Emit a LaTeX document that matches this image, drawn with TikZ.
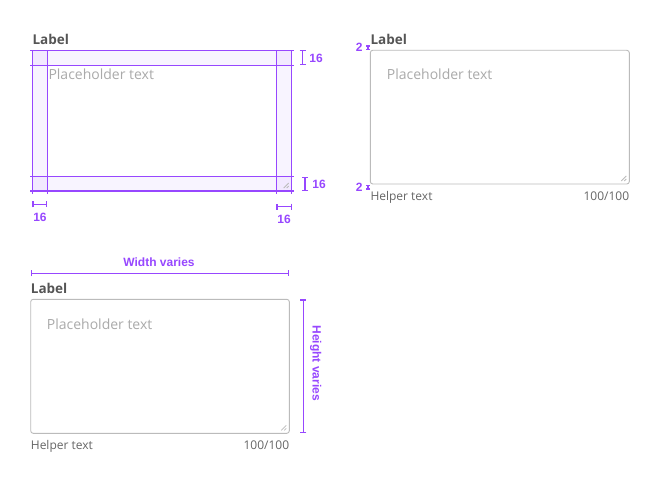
\documentclass[tikz,border=0pt]{standalone}
\usepackage{fontspec}
\setmainfont{Open Sans}
\newfontfamily\dimfont{Liberation Sans}
\usetikzlibrary{arrows.meta}

\definecolor{dimpurple}{RGB}{151,71,255}
\definecolor{labelgray}{RGB}{85,85,85}
\definecolor{holdergray}{RGB}{170,170,170}
\definecolor{helpergray}{RGB}{102,102,102}
\definecolor{bordergray}{RGB}{187,187,187}

\tikzset{
  fieldlabel/.style={anchor=base west, inner sep=0pt, text=labelgray,
    font=\fontsize{13.5}{16}\selectfont\bfseries},
  holder/.style={anchor=base west, inner sep=0pt, text=holdergray,
    font=\fontsize{14}{17}\selectfont},
  helper/.style={anchor=base west, inner sep=0pt, text=helpergray,
    font=\fontsize{12}{14}\selectfont},
  counter/.style={helper, anchor=base east},
  fieldbox/.style={draw=bordergray, line width=0.9pt, rounded corners=2.5pt},
  grip/.style={draw=bordergray, line width=0.8pt},
  dimline/.style={draw=dimpurple, line width=1.2pt, {Bar[width=6pt]}-{Bar[width=6pt]}},
  smalldim/.style={draw=dimpurple, line width=1.1pt, {Bar[width=4pt]}-{Bar[width=4pt]}},
  dimtext/.style={inner sep=0pt, text=dimpurple,
    font=\dimfont\fontsize{12}{14}\selectfont\bfseries},
  padline/.style={draw=dimpurple, line width=1.1pt},
  padstrip/.style={fill=dimpurple, fill opacity=0.06},
}

\begin{document}
\begin{tikzpicture}[%
      x=1pt, y=-1pt,
      ]
      \useasboundingbox[fill=white] (0,0) rectangle (660,484);

      % padding overlay
      \fill[padstrip] (32.3,50.3) rectangle (291.7,65.3);
      \fill[padstrip] (32.3,176.7) rectangle (291.7,191);
      \fill[padstrip] (32.3,50.3) rectangle (47.3,191);
      \fill[padstrip] (276.3,50.3) rectangle (291.7,191);

      \node[fieldlabel] (lab1) at (32.3,44.3) {Label};
      \node[holder] (ph1) at (48.3,80) {Placeholder text};
      \draw[grip] (288.7,183) -- (283.7,188);
      \draw[grip] (288.7,186) -- (286.7,188);

      \foreach \y in {50.3,65.3,176.7,191}
        \draw[padline] (30,\y) -- (294,\y);
      \foreach \x in {32.3,47.3,276.3,291.7}
        \draw[padline] (\x,50.3) -- (\x,193.5);

      \coordinate (t1) at (302.7,50.3);
      \coordinate (t2) at (302.7,65.3);
      \draw[dimline] (t1) -- (t2);
      \node[dimtext] (tpad) at (316,58) {16};
      \coordinate (b1) at (305,176.7);
      \coordinate (b2) at (305,191);
      \draw[dimline] (b1) -- (b2);
      \node[dimtext] (bpad) at (319,184) {16};
      \coordinate (l1) at (32.3,204.3);
      \coordinate (l2) at (47.3,204.3);
      \draw[dimline] (l1) -- (l2);
      \node[dimtext] (lpad) at (40,217.7) {16};
      \coordinate (r1) at (276.3,206.7);
      \coordinate (r2) at (291.7,206.7);
      \draw[dimline] (r1) -- (r2);
      \node[dimtext] (rpad) at (284,219.3) {16};

      % spacing
      \node[fieldlabel] (lab2) at (370.3,44.3) {Label};
      \draw[fieldbox] (370.3,50.3) rectangle (629.3,184);
      \node[holder] (ph2) at (386.7,80) {Placeholder text};
      \draw[grip] (626.3,176) -- (621.3,181);
      \draw[grip] (626.3,179) -- (624.3,181);
      \node[helper] (help2) at (370.3,200.3) {Helper text};
      \node[counter] (cnt2) at (629.3,200.3) {100/100};
      \coordinate (s1) at (368,45.5);
      \coordinate (s2) at (368,50);
      \draw[smalldim] (s1) -- (s2);
      \node[dimtext] (gap1) at (359.3,47.7) {2};
      \coordinate (s3) at (368,185);
      \coordinate (s4) at (368,189.5);
      \draw[smalldim] (s3) -- (s4);
      \node[dimtext] (gap2) at (359.3,187.7) {2};

      % sizing
      \coordinate (w1) at (30.7,273.3);
      \coordinate (w2) at (289.3,273.3);
      \draw[dimline] (w1) -- (w2);
      \node[dimtext] (wtext) at (159,262) {Width varies};
      \node[fieldlabel] (lab3) at (30.7,293.3) {Label};
      \draw[fieldbox] (30.7,299.3) rectangle (289.3,433.3);
      \node[holder] (ph3) at (46.7,329) {Placeholder text};
      \draw[grip] (286.3,425.3) -- (281.3,430.3);
      \draw[grip] (286.3,428.3) -- (284.3,430.3);
      \node[helper] (help3) at (30.7,449.3) {Helper text};
      \node[counter] (cnt3) at (289.3,449.3) {100/100};
      \coordinate (h1) at (303.3,299.3);
      \coordinate (h2) at (303.3,433.3);
      \draw[dimline] (h1) -- (h2);
      \node[dimtext, rotate=-90] (htext) at (315.7,363.3) {Height varies};
      \end{tikzpicture}
\end{document}
